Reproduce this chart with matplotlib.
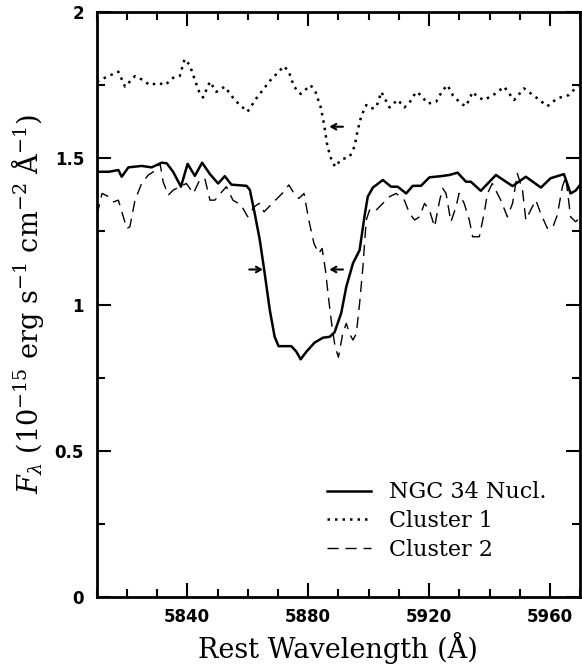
import matplotlib
matplotlib.use("Agg")
import matplotlib.pyplot as plt
from matplotlib.ticker import MultipleLocator

# ---------------- data ----------------
nucl_wl = [5810, 5814, 5817.2, 5818.3, 5820.5, 5824.9, 5828.2, 5831.5, 5833.2, 5835.3,
           5837.9, 5840.1, 5842.5, 5844.9, 5847.5, 5850.2, 5852.4, 5854.6, 5859.6, 5860.7,
           5862.3, 5864, 5865.6, 5867.3, 5868.9, 5870.2, 5874.4, 5876.1, 5877.5, 5879.4,
           5882.1, 5884.9, 5887.1, 5888.7, 5890.9, 5892.6, 5894.8, 5897, 5898.6, 5899.7,
           5901.4, 5904.7, 5907.4, 5909.6, 5912.4, 5914.6, 5917.3, 5920.1, 5923.9, 5926.7,
           5929.4, 5932.2, 5933.8, 5937.1, 5942.1, 5947.6, 5952, 5957, 5960.2, 5964.6,
           5966.8, 5968.5, 5970]
nucl_flux = [1.454, 1.454, 1.46, 1.437, 1.469, 1.474, 1.469, 1.485, 1.483, 1.454,
             1.403, 1.481, 1.44, 1.485, 1.446, 1.414, 1.439, 1.41, 1.406, 1.392,
             1.312, 1.22, 1.107, 0.981, 0.89, 0.858, 0.858, 0.839, 0.813, 0.839,
             0.87, 0.887, 0.89, 0.905, 0.97, 1.061, 1.141, 1.186, 1.3, 1.369,
             1.40, 1.426, 1.403, 1.403, 1.38, 1.406, 1.406, 1.435, 1.439, 1.443,
             1.451, 1.42, 1.42, 1.389, 1.443, 1.405, 1.437, 1.40, 1.432, 1.446,
             1.38, 1.39, 1.41]

c1_wl = [5810.1, 5813.9, 5817.2, 5819.4, 5822.7, 5825.4, 5827.6, 5830.4, 5832.6, 5835.3,
         5837.5, 5839.1, 5840.8, 5842.5, 5844.1, 5845.2, 5847.5, 5849.6, 5852.4, 5855.7,
         5859.9, 5863.2, 5867.6, 5872, 5873.6, 5875.3, 5877.5, 5880.8, 5882.4, 5884.1,
         5885.2, 5886.2, 5887.3, 5888.9, 5890.9, 5893.7, 5895.3, 5896.4, 5897.5, 5899.2,
         5900.8, 5902.5, 5904.2, 5905.3, 5906.9, 5909.6, 5911.8, 5913.5, 5915.7, 5917.3,
         5919.5, 5922.3, 5924.5, 5926.1, 5927.8, 5930.5, 5932.2, 5934.4, 5936, 5938.2,
         5942.1, 5944.8, 5948.1, 5951.4, 5955.8, 5959.1, 5962.4, 5966.2, 5969.5]
c1_flux = [1.762, 1.781, 1.796, 1.745, 1.781, 1.767, 1.75, 1.758, 1.75, 1.775,
           1.781, 1.839, 1.819, 1.768, 1.722, 1.708, 1.762, 1.727, 1.745, 1.699,
           1.659, 1.71, 1.768, 1.815, 1.796, 1.745, 1.72, 1.75, 1.727, 1.676,
           1.619, 1.551, 1.505, 1.471, 1.496, 1.505, 1.54, 1.597, 1.642, 1.682,
           1.67, 1.674, 1.727, 1.705, 1.674, 1.70, 1.674, 1.69, 1.727, 1.716,
           1.687, 1.693, 1.733, 1.75, 1.716, 1.687, 1.678, 1.727, 1.71, 1.699,
           1.722, 1.745, 1.699, 1.739, 1.705, 1.678, 1.705, 1.716, 1.751]

c2_wl = [5810.1, 5811.8, 5814, 5815.6, 5817.2, 5820, 5821, 5822.7, 5824.9, 5827.1,
         5828.8, 5831, 5832, 5833.7, 5835.3, 5837.5, 5839.7, 5842, 5844.1, 5845.8,
         5847.5, 5849.1, 5852.9, 5855.1, 5857.8, 5860, 5862.1, 5863.8, 5865.4, 5868.1,
         5871.4, 5873.6, 5875.3, 5876.9, 5878.6, 5880.2, 5881.9, 5883.5, 5884.6, 5885.7,
         5886.8, 5887.9, 5888.9, 5890, 5891.4, 5892.6, 5893.7, 5894.8, 5895.9, 5897,
         5898.1, 5899.2, 5900.3, 5901.9, 5904.7, 5906.9, 5909.1, 5911.8, 5913.5, 5915.2,
         5916.8, 5918.5, 5920.1, 5921.8, 5923.5, 5924.5, 5925.6, 5927.2, 5928.9, 5929.9,
         5931.6, 5933.3, 5934.4, 5936.6, 5938.2, 5939.3, 5940.9, 5943.7, 5945.9, 5947.6,
         5949.2, 5950.9, 5952, 5953.6, 5955.3, 5956.9, 5959.1, 5960.8, 5962.4, 5964.1,
         5965.2, 5966.8, 5968.5, 5970]
c2_flux = [1.306, 1.38, 1.369, 1.351, 1.357, 1.26, 1.266, 1.357, 1.414, 1.443,
           1.454, 1.482, 1.42, 1.374, 1.391, 1.403, 1.414, 1.38, 1.426, 1.431,
           1.357, 1.357, 1.403, 1.357, 1.34, 1.30, 1.334, 1.346, 1.317, 1.346,
           1.38, 1.409, 1.38, 1.363, 1.38, 1.289, 1.209, 1.175, 1.192, 1.118,
           1.015, 0.924, 0.856, 0.82, 0.90, 0.936, 0.90, 0.879, 0.90, 1.004,
           1.129, 1.289, 1.323, 1.317, 1.346, 1.369, 1.38, 1.357, 1.312, 1.289,
           1.30, 1.346, 1.323, 1.266, 1.357, 1.397, 1.38, 1.283, 1.334, 1.38,
           1.346, 1.289, 1.232, 1.232, 1.312, 1.38, 1.414, 1.357, 1.30, 1.346,
           1.448, 1.391, 1.289, 1.323, 1.357, 1.312, 1.261, 1.261, 1.306, 1.403,
           1.437, 1.30, 1.283, 1.30]

labels = ["NGC 34 Nucl.", "Cluster 1", "Cluster 2"]
xlabel = "Rest Wavelength (Å)"
ylabel = r"$F_\lambda$ (10$^{-15}$ erg s$^{-1}$ cm$^{-2}$ Å$^{-1}$)"
xtick_vals = [5840, 5880, 5920, 5960]
ytick_vals = [0, 0.5, 1, 1.5, 2]
ytick_text = ["0", "0.5", "1", "1.5", "2"]

# arrows: (head wavelength, tail wavelength, flux)
arrows = [(5865.0, 5860.5, 1.12), (5887.0, 5891.5, 1.12), (5887.0, 5891.5, 1.608)]

# ---------------- figure ----------------
serif = "DejaVu Serif"
plt.rcParams["mathtext.fontset"] = "dejavuserif"

fig = plt.figure(figsize=(5.82, 6.68), dpi=100)
ax = fig.add_axes([0.166, 0.106, 0.831, 0.876])

ax.plot(nucl_wl, nucl_flux, color="black", lw=1.8, ls="-", label=labels[0])
ax.plot(c1_wl, c1_flux, color="black", lw=1.8, ls=(0, (1, 2)), label=labels[1])
ax.plot(c2_wl, c2_flux, color="black", lw=1.0, ls=(0, (8, 5)), label=labels[2])

for head, tail, f in arrows:
    ax.annotate("", xy=(head, f), xytext=(tail, f),
                arrowprops=dict(arrowstyle="->,head_length=0.35,head_width=0.2",
                                lw=1.5, color="black", shrinkA=0, shrinkB=0))

ax.set_xlim(5810, 5970)
ax.set_ylim(0, 2)
ax.xaxis.set_minor_locator(MultipleLocator(10))
ax.yaxis.set_minor_locator(MultipleLocator(0.25))
ax.set_xticks(xtick_vals)
ax.set_yticks(ytick_vals)
ax.set_yticklabels(ytick_text)

ax.tick_params(which="both", direction="in", top=True, right=True, width=1.5)
ax.tick_params(which="major", length=10)
ax.tick_params(which="minor", length=6)
ax.tick_params(axis="x", which="major", pad=8)
ax.tick_params(axis="y", which="major", pad=9)
for lab in ax.get_xticklabels() + ax.get_yticklabels():
    lab.set_fontsize(12)
    lab.set_fontweight("bold")
    lab.set_family("DejaVu Sans")
for sp in ax.spines.values():
    sp.set_linewidth(2)

ax.set_xlabel(xlabel, fontsize=19.5, family=serif, labelpad=4)
ax.set_ylabel(ylabel, fontsize=19.5, family=serif, labelpad=6)

leg = ax.legend(loc="lower left", bbox_to_anchor=(0.435, 0.028), frameon=False,
                prop={"family": serif, "size": 16}, handlelength=2.0,
                handletextpad=0.8, labelspacing=0.3)

fig.savefig("out.png", dpi=100)
